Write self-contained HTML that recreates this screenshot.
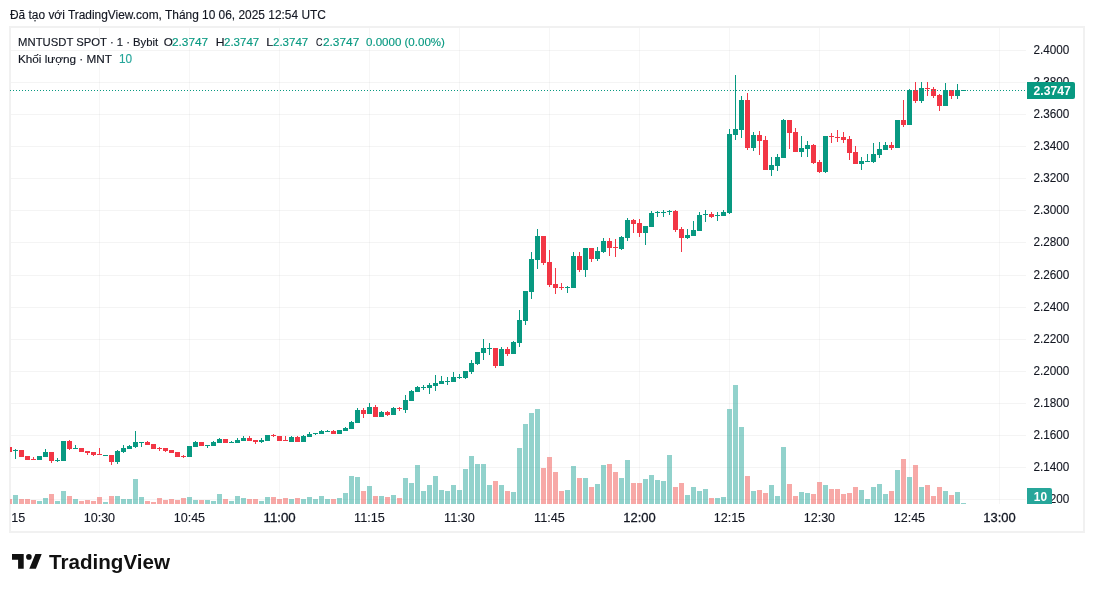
<!DOCTYPE html>
<html><head><meta charset="utf-8"><style>
html,body{margin:0;padding:0;background:#fff;width:1094px;height:592px;overflow:hidden}
svg{display:block;font-family:"Liberation Sans",sans-serif;will-change:transform}
text{shape-rendering:auto}
</style></head><body>
<svg width="1094" height="592" viewBox="0 0 1094 592" shape-rendering="crispEdges">
<defs><clipPath id="cp"><rect x="10" y="28" width="1016" height="476"/></clipPath>
<clipPath id="tp"><rect x="11" y="504" width="1015" height="27"/></clipPath></defs>
<rect x="10" y="27" width="1074" height="505" fill="none" stroke="#f1f1f1" stroke-width="2"/>
<g clip-path="url(#cp)">
<path d="M11 50.5H1026M11 82.5H1026M11 114.5H1026M11 146.5H1026M11 178.5H1026M11 210.5H1026M11 242.5H1026M11 275.5H1026M11 307.5H1026M11 339.5H1026M11 371.5H1026M11 403.5H1026M11 435.5H1026M11 467.5H1026M11 499.5H1026" stroke="rgba(0,0,0,0.045)" stroke-width="1" fill="none"/>
<path d="M99.5 28V504M189.5 28V504M279.5 28V504M369.5 28V504M459.5 28V504M549.5 28V504M639.5 28V504M729.5 28V504M819.5 28V504M909.5 28V504M999.5 28V504" stroke="rgba(0,0,0,0.035)" stroke-width="1" fill="none"/>
<path d="M13 495h5v9h-5zM37 501h5v3h-5zM43 498h5v6h-5zM55 501h5v3h-5zM61 491h5v13h-5zM73 499h5v5h-5zM103 502h5v2h-5zM115 496h5v8h-5zM121 499h5v5h-5zM127 499h5v5h-5zM133 479h5v25h-5zM139 497h5v7h-5zM187 497h5v7h-5zM193 500h5v4h-5zM205 500h5v4h-5zM211 501h5v3h-5zM217 494h5v10h-5zM229 501h5v3h-5zM235 496h5v8h-5zM241 498h5v6h-5zM259 501h5v3h-5zM265 497h5v7h-5zM289 499h5v5h-5zM301 499h5v5h-5zM307 497h5v7h-5zM313 499h5v5h-5zM319 496h5v8h-5zM325 499h5v5h-5zM337 498h5v6h-5zM343 493h5v11h-5zM349 476h5v28h-5zM355 477h5v27h-5zM367 486h5v18h-5zM379 496h5v8h-5zM391 495h5v9h-5zM403 478h5v26h-5zM409 483h5v21h-5zM415 465h5v39h-5zM421 491h5v13h-5zM427 485h5v19h-5zM433 476h5v28h-5zM439 490h5v14h-5zM445 491h5v13h-5zM451 485h5v19h-5zM457 490h5v14h-5zM463 469h5v35h-5zM469 456h5v48h-5zM475 464h5v40h-5zM481 464h5v40h-5zM487 485h5v19h-5zM499 485h5v19h-5zM511 492h5v12h-5zM517 448h5v56h-5zM523 424h5v80h-5zM529 413h5v91h-5zM535 409h5v95h-5zM565 490h5v14h-5zM571 466h5v38h-5zM583 478h5v26h-5zM595 484h5v20h-5zM601 465h5v39h-5zM619 478h5v26h-5zM625 460h5v44h-5zM643 479h5v25h-5zM649 475h5v29h-5zM655 480h5v24h-5zM661 481h5v23h-5zM667 455h5v49h-5zM685 495h5v9h-5zM691 487h5v17h-5zM697 491h5v13h-5zM703 489h5v15h-5zM715 498h5v6h-5zM721 497h5v7h-5zM727 409h5v95h-5zM733 385h5v119h-5zM739 427h5v77h-5zM751 491h5v13h-5zM769 485h5v19h-5zM775 496h5v8h-5zM781 447h5v57h-5zM799 492h5v12h-5zM805 493h5v11h-5zM823 485h5v19h-5zM859 490h5v14h-5zM865 499h5v5h-5zM871 487h5v17h-5zM877 484h5v20h-5zM883 494h5v10h-5zM895 470h5v34h-5zM907 477h5v27h-5zM919 487h5v17h-5zM943 491h5v13h-5zM955 492h5v12h-5zM961 503h5v1h-5z" fill="rgba(38,166,154,0.5)"/>
<path d="M7 499h5v5h-5zM19 499h5v5h-5zM25 499h5v5h-5zM31 500h5v4h-5zM49 494h5v10h-5zM67 496h5v8h-5zM79 501h5v3h-5zM85 500h5v4h-5zM91 501h5v3h-5zM97 497h5v7h-5zM109 496h5v8h-5zM145 501h5v3h-5zM151 502h5v2h-5zM157 498h5v6h-5zM163 500h5v4h-5zM169 499h5v5h-5zM175 500h5v4h-5zM181 498h5v6h-5zM199 500h5v4h-5zM223 499h5v5h-5zM247 499h5v5h-5zM253 499h5v5h-5zM271 497h5v7h-5zM277 499h5v5h-5zM283 498h5v6h-5zM295 498h5v6h-5zM331 499h5v5h-5zM361 491h5v13h-5zM373 496h5v8h-5zM385 497h5v7h-5zM397 498h5v6h-5zM493 481h5v23h-5zM505 491h5v13h-5zM541 468h5v36h-5zM547 457h5v47h-5zM553 472h5v32h-5zM559 491h5v13h-5zM577 478h5v26h-5zM589 487h5v17h-5zM607 464h5v40h-5zM613 472h5v32h-5zM631 483h5v21h-5zM637 483h5v21h-5zM673 487h5v17h-5zM679 483h5v21h-5zM709 498h5v6h-5zM745 476h5v28h-5zM757 490h5v14h-5zM763 493h5v11h-5zM787 484h5v20h-5zM793 496h5v8h-5zM811 494h5v10h-5zM817 482h5v22h-5zM829 489h5v15h-5zM835 489h5v15h-5zM841 494h5v10h-5zM847 493h5v11h-5zM853 487h5v17h-5zM889 491h5v13h-5zM901 459h5v45h-5zM913 465h5v39h-5zM925 485h5v19h-5zM931 496h5v8h-5zM937 487h5v17h-5zM949 495h5v9h-5z" fill="rgba(239,83,80,0.5)"/>
<path d="M13 450h5v1h-5zM15 449h1v1h-1zM15 451h1v8h-1zM37 456h5v4h-5zM43 452h5v5h-5zM45 449h1v3h-1zM55 460h5v1h-5zM57 458h1v2h-1zM57 461h1v1h-1zM61 441h5v20h-5zM73 448h5v1h-5zM75 445h1v3h-1zM103 455h5v1h-5zM115 451h5v11h-5zM117 450h1v1h-1zM117 462h1v2h-1zM121 448h5v4h-5zM123 445h1v3h-1zM123 452h1v1h-1zM127 446h5v3h-5zM129 445h1v1h-1zM133 442h5v5h-5zM135 431h1v11h-1zM135 447h1v1h-1zM139 442h5v1h-5zM141 443h1v4h-1zM187 446h5v11h-5zM193 442h5v5h-5zM195 441h1v1h-1zM205 445h5v1h-5zM207 446h1v2h-1zM211 442h5v4h-5zM213 441h1v1h-1zM217 439h5v4h-5zM219 438h1v1h-1zM229 442h5v1h-5zM231 441h1v1h-1zM235 440h5v3h-5zM237 438h1v2h-1zM241 438h5v3h-5zM243 436h1v2h-1zM259 440h5v2h-5zM261 438h1v2h-1zM261 442h1v1h-1zM265 435h5v6h-5zM289 437h5v5h-5zM291 436h1v1h-1zM301 436h5v6h-5zM303 435h1v1h-1zM307 434h5v3h-5zM309 432h1v2h-1zM313 433h5v1h-5zM315 434h1v1h-1zM319 431h5v3h-5zM321 430h1v1h-1zM325 431h5v1h-5zM327 430h1v1h-1zM337 430h5v4h-5zM343 428h5v3h-5zM345 427h1v1h-1zM349 422h5v7h-5zM351 421h1v1h-1zM355 410h5v13h-5zM357 408h1v2h-1zM367 407h5v7h-5zM369 403h1v4h-1zM379 412h5v5h-5zM381 411h1v1h-1zM391 408h5v7h-5zM393 407h1v1h-1zM403 400h5v10h-5zM405 395h1v5h-1zM405 410h1v3h-1zM409 391h5v10h-5zM411 390h1v1h-1zM415 387h5v5h-5zM417 386h1v1h-1zM421 387h5v1h-5zM423 385h1v2h-1zM423 388h1v2h-1zM427 385h5v3h-5zM429 383h1v2h-1zM429 388h1v6h-1zM433 383h5v3h-5zM435 375h1v8h-1zM435 386h1v5h-1zM439 381h5v3h-5zM441 376h1v5h-1zM445 381h5v1h-5zM447 377h1v4h-1zM447 382h1v3h-1zM451 377h5v5h-5zM453 372h1v5h-1zM457 377h5v1h-5zM459 374h1v3h-1zM459 378h1v1h-1zM463 371h5v7h-5zM465 378h1v1h-1zM469 363h5v9h-5zM471 360h1v3h-1zM471 372h1v2h-1zM475 352h5v12h-5zM477 364h1v1h-1zM481 348h5v5h-5zM483 339h1v9h-1zM483 353h1v7h-1zM487 348h5v1h-5zM489 343h1v5h-1zM489 349h1v6h-1zM499 349h5v17h-5zM501 347h1v2h-1zM511 342h5v12h-5zM513 341h1v1h-1zM517 320h5v23h-5zM519 310h1v10h-1zM519 343h1v4h-1zM523 291h5v30h-5zM525 321h1v4h-1zM529 259h5v33h-5zM531 252h1v7h-1zM531 292h1v7h-1zM535 236h5v24h-5zM537 229h1v7h-1zM537 260h1v9h-1zM565 287h5v1h-5zM567 286h1v1h-1zM567 288h1v5h-1zM571 256h5v32h-5zM573 252h1v4h-1zM583 248h5v22h-5zM585 270h1v7h-1zM595 251h5v8h-5zM597 247h1v4h-1zM597 259h1v2h-1zM601 241h5v11h-5zM603 238h1v3h-1zM603 252h1v1h-1zM619 237h5v12h-5zM621 236h1v1h-1zM621 249h1v1h-1zM625 220h5v18h-5zM627 218h1v2h-1zM627 238h1v3h-1zM643 226h5v7h-5zM645 233h1v12h-1zM649 213h5v14h-5zM651 211h1v2h-1zM655 212h5v1h-5zM657 211h1v1h-1zM657 213h1v4h-1zM661 212h5v1h-5zM663 210h1v2h-1zM663 213h1v4h-1zM667 211h5v1h-5zM669 210h1v1h-1zM669 212h1v3h-1zM685 235h5v3h-5zM687 229h1v6h-1zM687 238h1v1h-1zM691 230h5v6h-5zM693 221h1v9h-1zM697 215h5v16h-5zM699 212h1v3h-1zM703 214h5v1h-5zM705 210h1v4h-1zM705 215h1v7h-1zM715 215h5v1h-5zM717 212h1v3h-1zM717 216h1v5h-1zM721 212h5v4h-5zM723 210h1v2h-1zM727 134h5v79h-5zM729 129h1v5h-1zM729 213h1v1h-1zM733 129h5v6h-5zM735 75h1v54h-1zM735 135h1v5h-1zM739 100h5v30h-5zM741 96h1v4h-1zM741 130h1v8h-1zM751 135h5v13h-5zM753 132h1v3h-1zM753 148h1v3h-1zM769 165h5v5h-5zM771 157h1v8h-1zM771 170h1v6h-1zM775 157h5v9h-5zM777 154h1v3h-1zM777 166h1v5h-1zM781 120h5v38h-5zM783 119h1v1h-1zM799 148h5v4h-5zM801 136h1v12h-1zM801 152h1v5h-1zM805 145h5v4h-5zM807 141h1v4h-1zM807 149h1v8h-1zM823 136h5v36h-5zM825 172h1v1h-1zM859 161h5v3h-5zM861 157h1v4h-1zM861 164h1v6h-1zM865 161h5v1h-5zM867 154h1v7h-1zM871 154h5v8h-5zM873 143h1v11h-1zM873 162h1v1h-1zM877 149h5v6h-5zM879 142h1v7h-1zM879 155h1v3h-1zM883 145h5v5h-5zM885 142h1v3h-1zM895 120h5v28h-5zM907 90h5v35h-5zM909 89h1v1h-1zM919 88h5v13h-5zM921 82h1v6h-1zM921 101h1v2h-1zM943 90h5v16h-5zM945 83h1v7h-1zM955 90h5v6h-5zM957 84h1v6h-1zM957 96h1v3h-1zM961 90h5v1h-5z" fill="#089981"/>
<path d="M7 447h5v5h-5zM19 450h5v7h-5zM25 456h5v4h-5zM31 459h5v1h-5zM33 457h1v2h-1zM49 452h5v9h-5zM51 461h1v2h-1zM67 441h5v8h-5zM69 440h1v1h-1zM69 449h1v1h-1zM79 448h5v4h-5zM85 451h5v2h-5zM87 453h1v2h-1zM91 452h5v3h-5zM93 455h1v1h-1zM97 454h5v1h-5zM99 448h1v6h-1zM109 455h5v7h-5zM111 462h1v3h-1zM145 442h5v3h-5zM147 441h1v1h-1zM151 444h5v5h-5zM157 448h5v1h-5zM159 447h1v1h-1zM159 449h1v2h-1zM163 448h5v3h-5zM165 451h1v1h-1zM169 450h5v3h-5zM175 452h5v5h-5zM181 456h5v1h-5zM183 455h1v1h-1zM183 457h1v1h-1zM199 442h5v4h-5zM223 439h5v4h-5zM247 438h5v3h-5zM249 436h1v2h-1zM253 440h5v2h-5zM255 442h1v2h-1zM271 435h5v1h-5zM273 434h1v1h-1zM273 436h1v1h-1zM277 436h5v5h-5zM283 440h5v1h-5zM285 436h1v4h-1zM295 437h5v5h-5zM297 436h1v1h-1zM331 431h5v3h-5zM333 430h1v1h-1zM361 410h5v4h-5zM363 408h1v2h-1zM363 414h1v4h-1zM373 407h5v10h-5zM375 405h1v2h-1zM385 412h5v3h-5zM387 411h1v1h-1zM387 415h1v1h-1zM397 408h5v1h-5zM399 407h1v1h-1zM399 409h1v2h-1zM493 348h5v18h-5zM495 366h1v2h-1zM505 349h5v5h-5zM507 347h1v2h-1zM507 354h1v2h-1zM541 236h5v27h-5zM543 263h1v2h-1zM547 262h5v23h-5zM549 250h1v12h-1zM549 285h1v2h-1zM553 284h5v4h-5zM555 268h1v16h-1zM555 288h1v6h-1zM559 287h5v1h-5zM561 283h1v4h-1zM561 288h1v2h-1zM577 256h5v14h-5zM579 252h1v4h-1zM579 270h1v2h-1zM589 248h5v11h-5zM591 259h1v3h-1zM607 241h5v7h-5zM609 238h1v3h-1zM609 248h1v8h-1zM613 247h5v1h-5zM615 239h1v8h-1zM615 248h1v9h-1zM631 220h5v4h-5zM633 219h1v1h-1zM633 224h1v9h-1zM637 223h5v10h-5zM639 219h1v4h-1zM639 233h1v4h-1zM673 211h5v19h-5zM675 210h1v1h-1zM675 230h1v2h-1zM679 229h5v9h-5zM681 227h1v2h-1zM681 238h1v14h-1zM709 214h5v3h-5zM711 212h1v2h-1zM711 217h1v1h-1zM745 100h5v48h-5zM747 93h1v7h-1zM747 148h1v2h-1zM757 135h5v6h-5zM759 131h1v4h-1zM759 141h1v14h-1zM763 140h5v30h-5zM765 136h1v4h-1zM787 120h5v13h-5zM789 133h1v16h-1zM793 132h5v20h-5zM795 128h1v4h-1zM811 145h5v18h-5zM813 144h1v1h-1zM813 163h1v1h-1zM817 162h5v10h-5zM819 160h1v2h-1zM819 172h1v1h-1zM829 136h5v1h-5zM831 133h1v3h-1zM831 137h1v6h-1zM835 137h5v1h-5zM837 130h1v7h-1zM837 138h1v4h-1zM841 137h5v3h-5zM843 132h1v5h-1zM843 140h1v3h-1zM847 139h5v14h-5zM849 136h1v3h-1zM849 153h1v7h-1zM853 152h5v12h-5zM855 146h1v6h-1zM889 145h5v3h-5zM891 142h1v3h-1zM891 148h1v2h-1zM901 120h5v5h-5zM903 100h1v20h-1zM903 125h1v2h-1zM913 90h5v11h-5zM915 82h1v8h-1zM915 101h1v2h-1zM925 88h5v1h-5zM927 82h1v6h-1zM927 89h1v7h-1zM931 89h5v7h-5zM933 87h1v2h-1zM933 96h1v2h-1zM937 95h5v11h-5zM939 94h1v1h-1zM939 106h1v5h-1zM949 90h5v6h-5zM951 96h1v3h-1z" fill="#F23645"/>
<path d="M10 90.5H1026" stroke="#089981" stroke-width="1" stroke-dasharray="1 2" fill="none"/>
</g>
<text id="header" x="10.00" y="19.00" font-size="12" stroke="#131722" stroke-width="0.15" fill="#131722" textLength="315.87" lengthAdjust="spacingAndGlyphs">Đã tạo với TradingView.com, Tháng 10 06, 2025 12:54 UTC</text>
<text id="sym" x="18.08" y="45.60" font-size="11.5" stroke="#131722" stroke-width="0.15" fill="#131722" textLength="140.13" lengthAdjust="spacingAndGlyphs">MNTUSDT SPOT · 1 · Bybit</text>
<text id="o" x="163.75" y="45.60" font-size="11.5" stroke="#131722" stroke-width="0.15" fill="#131722" textLength="9.09" lengthAdjust="spacingAndGlyphs">O</text>
<text id="ov" x="171.92" y="45.60" font-size="11.5" stroke="#089981" stroke-width="0.15" fill="#089981" textLength="36.29" lengthAdjust="spacingAndGlyphs">2.3747</text>
<text id="h" x="215.67" y="45.60" font-size="11.5" stroke="#131722" stroke-width="0.15" fill="#131722" textLength="8.81" lengthAdjust="spacingAndGlyphs">H</text>
<text id="hv" x="224.00" y="45.60" font-size="11.5" stroke="#089981" stroke-width="0.15" fill="#089981" textLength="35.21" lengthAdjust="spacingAndGlyphs">2.3747</text>
<text id="l" x="266.22" y="45.60" font-size="11.5" stroke="#131722" stroke-width="0.15" fill="#131722" textLength="6.92" lengthAdjust="spacingAndGlyphs">L</text>
<text id="lv" x="272.97" y="45.60" font-size="11.5" stroke="#089981" stroke-width="0.15" fill="#089981" textLength="35.28" lengthAdjust="spacingAndGlyphs">2.3747</text>
<text id="c" x="316.03" y="45.60" font-size="11.5" stroke="#131722" stroke-width="0.15" fill="#131722" textLength="6.47" lengthAdjust="spacingAndGlyphs">C</text>
<text id="cv" x="322.96" y="45.60" font-size="11.5" stroke="#089981" stroke-width="0.15" fill="#089981" textLength="36.29" lengthAdjust="spacingAndGlyphs">2.3747</text>
<text id="chg" x="366.00" y="45.60" font-size="11.5" stroke="#089981" stroke-width="0.15" fill="#089981" textLength="78.95" lengthAdjust="spacingAndGlyphs">0.0000 (0.00%)</text>
<text id="vl" x="17.91" y="62.80" font-size="11.5" stroke="#131722" stroke-width="0.15" fill="#131722" textLength="93.99" lengthAdjust="spacingAndGlyphs">Khối lượng · MNT</text>
<text id="vv" x="118.96" y="62.80" font-size="12" stroke="#26a69a" stroke-width="0.15" fill="#26a69a" textLength="13.14" lengthAdjust="spacingAndGlyphs">10</text>
<text id="p24000" x="1033.38" y="54.00" font-size="12" stroke="#131722" stroke-width="0.12" fill="#131722" textLength="35.89" lengthAdjust="spacingAndGlyphs">2.4000</text>
<text id="p23800" x="1033.38" y="86.00" font-size="12" stroke="#131722" stroke-width="0.12" fill="#131722" textLength="35.89" lengthAdjust="spacingAndGlyphs">2.3800</text>
<text id="p23600" x="1033.38" y="118.00" font-size="12" stroke="#131722" stroke-width="0.12" fill="#131722" textLength="35.89" lengthAdjust="spacingAndGlyphs">2.3600</text>
<text id="p23400" x="1033.38" y="150.00" font-size="12" stroke="#131722" stroke-width="0.12" fill="#131722" textLength="35.89" lengthAdjust="spacingAndGlyphs">2.3400</text>
<text id="p23200" x="1033.38" y="182.00" font-size="12" stroke="#131722" stroke-width="0.12" fill="#131722" textLength="35.89" lengthAdjust="spacingAndGlyphs">2.3200</text>
<text id="p23000" x="1033.38" y="214.00" font-size="12" stroke="#131722" stroke-width="0.12" fill="#131722" textLength="35.89" lengthAdjust="spacingAndGlyphs">2.3000</text>
<text id="p22800" x="1033.38" y="246.00" font-size="12" stroke="#131722" stroke-width="0.12" fill="#131722" textLength="35.89" lengthAdjust="spacingAndGlyphs">2.2800</text>
<text id="p22600" x="1033.38" y="279.00" font-size="12" stroke="#131722" stroke-width="0.12" fill="#131722" textLength="35.89" lengthAdjust="spacingAndGlyphs">2.2600</text>
<text id="p22400" x="1033.38" y="311.00" font-size="12" stroke="#131722" stroke-width="0.12" fill="#131722" textLength="35.89" lengthAdjust="spacingAndGlyphs">2.2400</text>
<text id="p22200" x="1033.38" y="343.00" font-size="12" stroke="#131722" stroke-width="0.12" fill="#131722" textLength="35.89" lengthAdjust="spacingAndGlyphs">2.2200</text>
<text id="p22000" x="1033.38" y="375.00" font-size="12" stroke="#131722" stroke-width="0.12" fill="#131722" textLength="35.89" lengthAdjust="spacingAndGlyphs">2.2000</text>
<text id="p21800" x="1033.38" y="407.00" font-size="12" stroke="#131722" stroke-width="0.12" fill="#131722" textLength="35.89" lengthAdjust="spacingAndGlyphs">2.1800</text>
<text id="p21600" x="1033.38" y="439.00" font-size="12" stroke="#131722" stroke-width="0.12" fill="#131722" textLength="35.89" lengthAdjust="spacingAndGlyphs">2.1600</text>
<text id="p21400" x="1033.38" y="471.00" font-size="12" stroke="#131722" stroke-width="0.12" fill="#131722" textLength="35.89" lengthAdjust="spacingAndGlyphs">2.1400</text>
<text id="p21200" x="1033.38" y="503.00" font-size="12" stroke="#131722" stroke-width="0.12" fill="#131722" textLength="35.89" lengthAdjust="spacingAndGlyphs">2.1200</text>
<text id="t1015" x="-6.33" y="522.00" font-size="12" stroke="#131722" stroke-width="0.12" fill="#131722" textLength="31.46" lengthAdjust="spacingAndGlyphs" clip-path="url(#tp)">10:15</text>
<text id="t1030" x="83.67" y="522.00" font-size="12" stroke="#131722" stroke-width="0.12" fill="#131722" textLength="31.46" lengthAdjust="spacingAndGlyphs" clip-path="url(#tp)">10:30</text>
<text id="t1045" x="173.67" y="522.00" font-size="12" stroke="#131722" stroke-width="0.12" fill="#131722" textLength="31.46" lengthAdjust="spacingAndGlyphs" clip-path="url(#tp)">10:45</text>
<text id="t1100" x="263.53" y="522.00" font-size="12" stroke="#131722" stroke-width="0.28" fill="#131722" textLength="32.20" lengthAdjust="spacingAndGlyphs" clip-path="url(#tp)">11:00</text>
<text id="t1115" x="354.05" y="522.00" font-size="12" stroke="#131722" stroke-width="0.12" fill="#131722" textLength="30.79" lengthAdjust="spacingAndGlyphs" clip-path="url(#tp)">11:15</text>
<text id="t1130" x="444.08" y="522.00" font-size="12" stroke="#131722" stroke-width="0.12" fill="#131722" textLength="30.79" lengthAdjust="spacingAndGlyphs" clip-path="url(#tp)">11:30</text>
<text id="t1145" x="534.05" y="522.00" font-size="12" stroke="#131722" stroke-width="0.12" fill="#131722" textLength="30.79" lengthAdjust="spacingAndGlyphs" clip-path="url(#tp)">11:45</text>
<text id="t1200" x="623.21" y="522.00" font-size="12" stroke="#131722" stroke-width="0.28" fill="#131722" textLength="32.45" lengthAdjust="spacingAndGlyphs" clip-path="url(#tp)">12:00</text>
<text id="t1215" x="713.67" y="522.00" font-size="12" stroke="#131722" stroke-width="0.12" fill="#131722" textLength="31.45" lengthAdjust="spacingAndGlyphs" clip-path="url(#tp)">12:15</text>
<text id="t1230" x="803.67" y="522.00" font-size="12" stroke="#131722" stroke-width="0.12" fill="#131722" textLength="31.45" lengthAdjust="spacingAndGlyphs" clip-path="url(#tp)">12:30</text>
<text id="t1245" x="893.67" y="522.00" font-size="12" stroke="#131722" stroke-width="0.12" fill="#131722" textLength="31.45" lengthAdjust="spacingAndGlyphs" clip-path="url(#tp)">12:45</text>
<text id="t1300" x="983.21" y="522.00" font-size="12" stroke="#131722" stroke-width="0.28" fill="#131722" textLength="32.45" lengthAdjust="spacingAndGlyphs" clip-path="url(#tp)">13:00</text>
<text id="logo" x="49.00" y="568.80" font-size="21" font-weight="bold" fill="#111111" textLength="120.95" lengthAdjust="spacingAndGlyphs">TradingView</text>
<path d="M1027 82H1073A2 2 0 0 1 1075 84V97A2 2 0 0 1 1073 99H1027Z" fill="#089981" shape-rendering="auto"/>
<path d="M1027 488H1050A2 2 0 0 1 1052 490V504H1027Z" fill="#26a69a" shape-rendering="auto"/>
<text id="boxp" x="1033.62" y="95.00" font-size="12" font-weight="bold" fill="#ffffff" textLength="37.18" lengthAdjust="spacingAndGlyphs">2.3747</text>
<text id="boxv" x="1033.87" y="500.50" font-size="12" font-weight="bold" fill="#ffffff" textLength="13.24" lengthAdjust="spacingAndGlyphs">10</text>
<g fill="#111111" shape-rendering="auto">
<path d="M12 554H23.7V568.8H18.1V559.7H12Z"/>
<circle cx="28.9" cy="556.9" r="2.8"/>
<path d="M35.4 554H41.7L35.9 568.8H29.3Z"/>
</g>
</svg>
</body></html>
